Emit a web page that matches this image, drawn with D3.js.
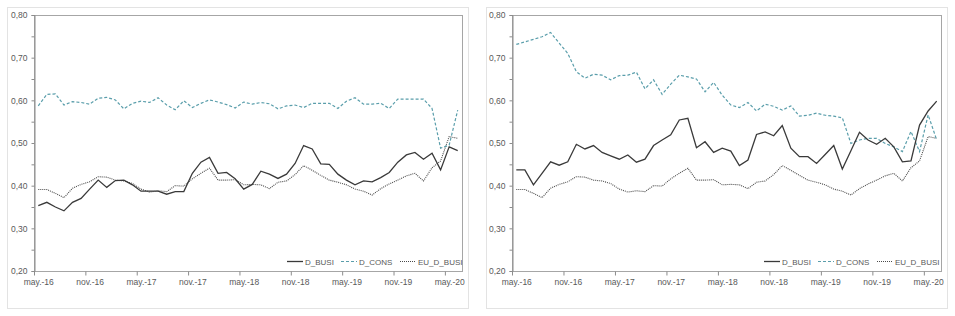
<!DOCTYPE html>
<html lang="es">
<head>
<meta charset="UTF-8">
<title>D_BUSI / D_CONS</title>
<script src="https://d3js.org/d3.v7.min.js"></script>
<style>
  body { margin: 0; background: #fff; }
  svg { display: block; font-family: "Liberation Sans", Arial, sans-serif; }
  .axis text { fill: #595959; font-size: 8.5px; }
  .axis path, .axis line { stroke: #8c8c8c; }
  .legend text { fill: #595959; font-size: 8px; }
</style>
</head>
<body>
<svg id="chart" width="955" height="316"></svg>
<script>
// 50 months, may.-16 .. jun.-20
var tickLabels = ["may.-16","nov.-16","may.-17","nov.-17","may.-18","nov.-18","may.-19","nov.-19","may.-20"];
var tickIndex = [0,6,12,18,24,30,36,42,48];

// left panel
var busiLeft = [0.353,0.361,0.350,0.341,0.361,0.370,0.392,0.413,0.396,0.412,
                0.413,0.402,0.387,0.387,0.387,0.380,0.386,0.386,0.429,0.455,
                0.466,0.429,0.431,0.416,0.392,0.403,0.434,0.427,0.417,0.427,
                0.452,0.494,0.486,0.451,0.450,0.427,0.413,0.402,0.411,0.409,
                0.419,0.431,0.455,0.472,0.478,0.462,0.476,0.437,0.491,0.482];
var consLeft = [0.587,0.614,0.615,0.589,0.597,0.595,0.591,0.605,0.607,0.601,
                0.580,0.593,0.598,0.595,0.606,0.589,0.578,0.599,0.583,0.593,
                0.601,0.596,0.590,0.582,0.596,0.591,0.595,0.592,0.580,0.587,
                0.589,0.583,0.593,0.593,0.593,0.581,0.598,0.606,0.591,0.591,
                0.593,0.581,0.603,0.603,0.603,0.603,0.581,0.488,0.495,0.577];

// right panel
var busiRight = [0.437,0.437,0.402,0.429,0.456,0.448,0.456,0.497,0.486,0.494,
                 0.478,0.470,0.462,0.472,0.455,0.462,0.494,0.507,0.519,0.554,
                 0.558,0.489,0.503,0.478,0.488,0.481,0.447,0.460,0.520,0.526,
                 0.517,0.541,0.488,0.468,0.468,0.452,0.473,0.494,0.439,0.482,
                 0.525,0.507,0.497,0.511,0.491,0.456,0.458,0.542,0.575,0.598];
var consRight = [0.731,0.737,0.743,0.749,0.759,0.734,0.710,0.667,0.652,0.661,
                 0.659,0.648,0.658,0.659,0.666,0.627,0.648,0.614,0.638,0.659,
                 0.655,0.650,0.620,0.642,0.612,0.589,0.583,0.595,0.575,0.591,
                 0.586,0.577,0.587,0.563,0.565,0.570,0.565,0.563,0.559,0.499,
                 0.507,0.511,0.511,0.499,0.491,0.480,0.527,0.480,0.566,0.507];

// same in both panels
var euBusi = [0.391,0.391,0.382,0.372,0.394,0.403,0.409,0.421,0.420,0.413,
              0.411,0.405,0.392,0.385,0.388,0.386,0.400,0.399,0.416,0.429,
              0.441,0.413,0.413,0.414,0.402,0.403,0.402,0.393,0.408,0.411,
              0.426,0.447,0.436,0.424,0.413,0.408,0.402,0.392,0.387,0.378,
              0.393,0.404,0.413,0.423,0.429,0.411,0.442,0.458,0.515,0.511];

var seriesNames = ["D_BUSI","D_CONS","EU_D_BUSI"];

var svg = d3.select("#chart");

function drawPanel(frame, plot, legendX, busi, cons, eu) {
    var g = svg.append("g");

    // chart frame
    g.append("rect")
        .attr("x", frame.x + 0.5).attr("y", frame.y + 0.5)
        .attr("width", frame.w).attr("height", frame.h)
        .attr("fill", "#fff").attr("stroke", "#e3e3e3");

    var x = d3.scaleLinear().domain([0, 50]).range([plot.x0, plot.x1]);
    var y = d3.scaleLinear().domain([0.2, 0.8]).range([plot.y1, plot.y0]);

    // plot area border
    g.append("rect")
        .attr("x", plot.x0 + 0.5).attr("y", plot.y0 + 0.5)
        .attr("width", plot.x1 - plot.x0).attr("height", plot.y1 - plot.y0)
        .attr("fill", "none").attr("stroke", "#a6a6a6");

    var yAxis = d3.axisLeft(y)
        .tickValues(d3.range(0, 13).map(function(k){ return 0.2 + k * 0.05; }))
        .tickSize(3).tickPadding(4)
        .tickFormat(function(v, k){ return k % 2 == 0 ? d3.format(".2f")(v).replace(".", ",") : ""; });
    g.append("g").attr("class", "axis")
        .attr("transform", "translate(" + (plot.x0 + 0.5) + ",0)")
        .call(yAxis);

    var half = x(0.5) - x(0);
    var xAxis = d3.axisBottom(x)
        .tickValues(tickIndex)
        .tickSize(4).tickPadding(3)
        .tickFormat(function(v, k){ return tickLabels[k]; });
    var xa = g.append("g").attr("class", "axis")
        .attr("transform", "translate(0," + (plot.y1 + 0.5) + ")")
        .call(xAxis);
    xa.selectAll("text").attr("x", half).attr("dy", "0.8em");
    xa.select(".domain").remove();

    var line = d3.line()
        .x(function(d, i){ return x(i + 0.5); })
        .y(function(d){ return y(d); });

    var styles = [
        {data: busi, color: "#3a3a3a", width: 1.3, dash: null},
        {data: cons, color: "#5a9eab", width: 1.2, dash: "3,2"},
        {data: eu,   color: "#4a4a4a", width: 1.1, dash: "1,1"}
    ];
    // draw order: dotted, dashed, solid on top
    [2, 1, 0].forEach(function(k){
        var s = styles[k];
        g.append("path").datum(s.data)
            .attr("d", line)
            .attr("fill", "none")
            .attr("stroke", s.color)
            .attr("stroke-width", s.width)
            .attr("stroke-dasharray", s.dash);
    });

    // legend
    var lg = g.append("g").attr("class", "legend");
    var offsets = [0, 54, 113];
    seriesNames.forEach(function(name, k){
        var s = styles[k];
        var lx = legendX + offsets[k];
        lg.append("line")
            .attr("x1", lx).attr("x2", lx + 16)
            .attr("y1", 261.5).attr("y2", 261.5)
            .attr("stroke", s.color).attr("stroke-width", s.width)
            .attr("stroke-dasharray", s.dash);
        lg.append("text")
            .attr("x", lx + 18).attr("y", 264.5)
            .text(name);
    });
}

drawPanel({x: 7, y: 7, w: 461, h: 301}, {x0: 34, x1: 462, y0: 15, y1: 271}, 287,
          busiLeft, consLeft, euBusi);
drawPanel({x: 486, y: 7, w: 461, h: 301}, {x0: 512, x1: 941, y0: 15, y1: 271}, 764,
          busiRight, consRight, euBusi);
</script>
</body>
</html>
